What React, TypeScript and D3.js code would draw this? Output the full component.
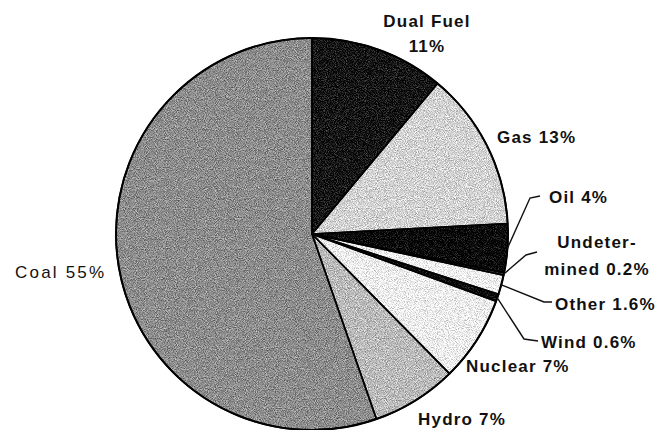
import { useMemo } from 'react';
import * as d3 from 'd3';

const W = 662;
const H = 430;
const CX = 312;
const CY = 234;
const R = 196;

// clockwise from 12 o'clock
const categories = ['Dual Fuel', 'Gas', 'Oil', 'Undetermined', 'Other', 'Wind', 'Nuclear', 'Hydro', 'Coal'];
const shares = [11, 13, 4, 0.2, 1.6, 0.6, 7, 7, 55];
const labelText = [
  ['Dual Fuel', '11%'],
  ['Gas 13%'],
  ['Oil 4%'],
  ['Undeter-', 'mined 0.2%'],
  ['Other 1.6%'],
  ['Wind 0.6%'],
  ['Nuclear 7%'],
  ['Hydro 7%'],
  ['Coal 55%'],
];

const FILLS = ['#141414', '#d2d2d2', '#060606', '#3a3a3a', '#f2f2f2', '#0a0a0a', '#eeeeee', '#bababa', '#8c8c8c'];

// label placement (x, first baseline, anchor, line gap, leader elbow)
const LABEL_POS: Record<string, { x: number; y: number; anchor: 'start' | 'middle'; gap: number; elbow?: [number, number][]; bold: boolean }> = {
  'Dual Fuel': { x: 427, y: 27, anchor: 'middle', gap: 25, bold: true },
  Gas: { x: 497, y: 143, anchor: 'start', gap: 0, bold: true },
  Oil: { x: 549, y: 203, anchor: 'start', gap: 0, elbow: [[530, 198], [540, 196]], bold: true },
  Undetermined: { x: 597, y: 248, anchor: 'middle', gap: 27, elbow: [[526, 255], [537, 252]], bold: true },
  Other: { x: 555, y: 310, anchor: 'start', gap: 0, elbow: [[544, 302], [552, 302]], bold: true },
  Wind: { x: 541, y: 348, anchor: 'start', gap: 0, elbow: [[524, 339], [538, 341]], bold: true },
  Nuclear: { x: 466, y: 372, anchor: 'start', gap: 0, bold: true },
  Hydro: { x: 418, y: 425, anchor: 'start', gap: 0, bold: true },
  Coal: { x: 15, y: 278, anchor: 'start', gap: 0, bold: false },
};

export default function App() {
  const arcs = useMemo(() => {
    const pie = d3.pie<number>().sort(null).value((d) => d);
    return pie(shares);
  }, []);

  const arcGen = d3.arc<d3.PieArcDatum<number>>().innerRadius(0).outerRadius(R);

  return (
    <div style={{ position: 'fixed', left: 0, top: 0 }}>
      <svg width={W} height={H} style={{ display: 'block', background: '#fff' }}>
        <defs>
          {/* scanned-print grain */}
          <filter id="grain" x="0" y="0" width="100%" height="100%" colorInterpolationFilters="sRGB">
            <feTurbulence type="fractalNoise" baseFrequency="1.1" numOctaves="1" seed="7" result="noise" />
            <feColorMatrix
              in="noise"
              type="matrix"
              values="1 0 0 0 0  1 0 0 0 0  1 0 0 0 0  0 0 0 0 1"
              result="gray"
            />
            <feComposite in="SourceGraphic" in2="gray" operator="arithmetic" k1="0" k2="1" k3="0.9" k4="-0.45" result="mix" />
            <feComposite in="mix" in2="SourceAlpha" operator="in" />
          </filter>
        </defs>

        <g transform={`translate(${CX},${CY})`}>
          <g filter="url(#grain)">
            {arcs.map((a, i) => (
              <path key={categories[i]} d={arcGen(a) ?? ''} fill={FILLS[i]} />
            ))}
          </g>
          {/* slice borders */}
          {arcs.map((a, i) => (
            <path key={'b' + categories[i]} d={arcGen(a) ?? ''} fill="none" stroke="#000" strokeWidth={1.6} strokeLinejoin="round" />
          ))}
          <circle r={R} fill="none" stroke="#000" strokeWidth={2} />
        </g>

        {/* leader lines */}
        {arcs.map((a, i) => {
          const pos = LABEL_POS[categories[i]];
          if (!pos.elbow) return null;
          const mid = (a.startAngle + a.endAngle) / 2;
          const px = CX + R * Math.sin(mid);
          const py = CY - R * Math.cos(mid);
          const pts: [number, number][] = [[px, py], ...pos.elbow];
          return (
            <path
              key={'l' + categories[i]}
              d={d3.line()(pts) ?? ''}
              fill="none"
              stroke="#111"
              strokeWidth={1.4}
            />
          );
        })}

        {/* labels */}
        {categories.map((c, i) => {
          const pos = LABEL_POS[c];
          return (
            <text
              key={'t' + c}
              x={pos.x}
              y={pos.y}
              textAnchor={pos.anchor}
              fontFamily="'Liberation Sans', Arial, sans-serif"
              fontSize={17}
              fontWeight={pos.bold ? 'bold' : 'normal'}
              letterSpacing={pos.bold ? 1.2 : 2.2}
              fill="#111"
            >
              {labelText[i].map((line, j) => (
                <tspan key={j} x={pos.x} y={pos.y + j * pos.gap}>
                  {line}
                </tspan>
              ))}
            </text>
          );
        })}
      </svg>
    </div>
  );
}
